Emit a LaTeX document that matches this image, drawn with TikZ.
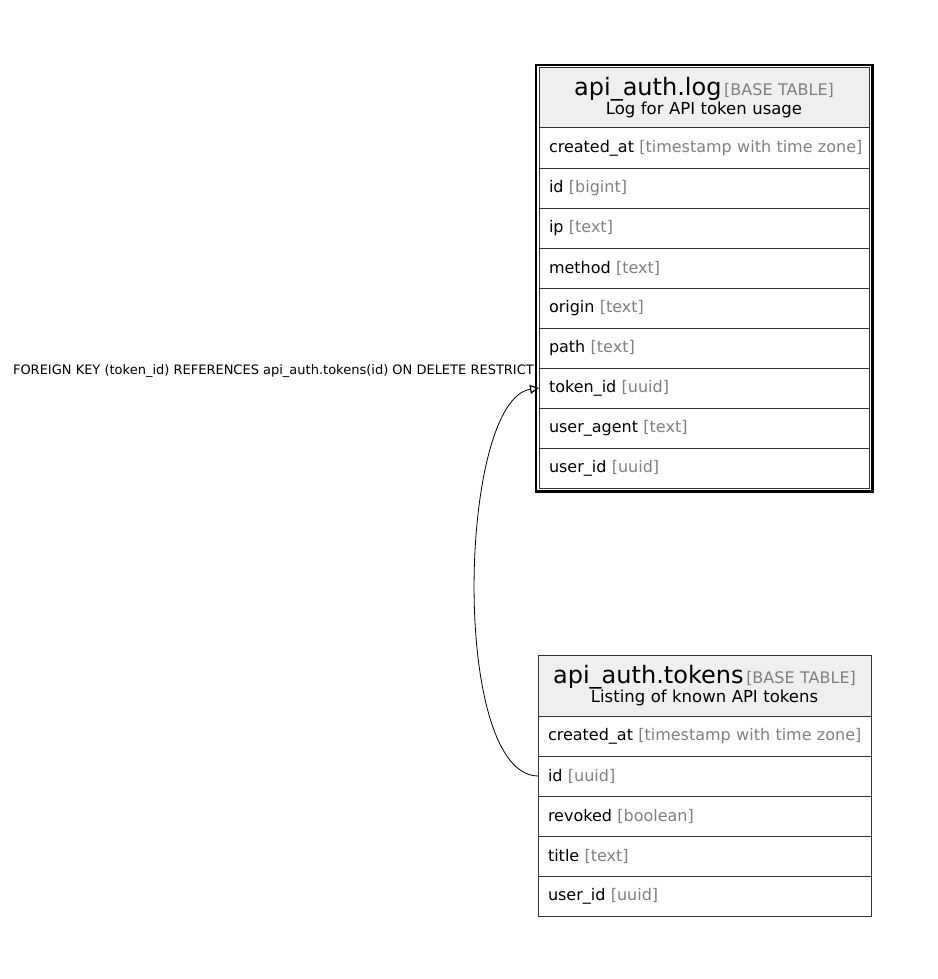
\documentclass[tikz,border=0pt]{standalone}
\usepackage{fontspec}
\setmainfont{DejaVu Sans}
\usetikzlibrary{positioning,fit,arrows.meta}
\definecolor{headgray}{RGB}{239,239,239}
\definecolor{typegray}{RGB}{128,128,128}
\definecolor{rulegray}{RGB}{51,51,51}
\newcommand{\fieldtype}[1]{\textcolor{typegray}{[#1]}}
\newcommand{\fieldrow}[2]{\mbox{#1 \fieldtype{#2}}}
\newcommand{\tabletitle}[2]{{\fontsize{24}{22}\selectfont #1}\,{\fontsize{16}{18}\selectfont\fieldtype{#2}}}

\begin{document}
\begin{tikzpicture}[x=1pt, y=-1pt,
    head/.style={rectangle, draw=rulegray, line width=1pt, fill=headgray, text width=310pt, align=center, inner xsep=10pt, inner ysep=0pt, minimum height=60pt, outer sep=0pt, font=\fontsize{16.5}{17}\selectfont},
    field/.style={rectangle, draw=rulegray, line width=1pt, text width=310pt, align=left, inner xsep=10pt, inner ysep=0pt, minimum height=40pt, outer sep=0pt, font=\fontsize{16}{18}\selectfont},
    tokfield/.style={field, text width=313pt},
    fklabel/.style={font=\fontsize{13}{15}\selectfont, inner sep=0pt},
    fk/.style={-{Triangle[open, length=9pt, width=9pt, line width=1.2pt]}, line width=0.8pt}
]
    \useasboundingbox (0,0) rectangle (937,979);

    % api_auth.log
    \node[head] (loghead) at (704,98) {\tabletitle{api\_auth.log}{BASE TABLE}\\ Log for API token usage};
    \node[field, below=0pt of loghead] (logcreated) {\fieldrow{created\_at}{timestamp with time zone}};
    \node[field, below=0pt of logcreated] (logid) {\fieldrow{id}{bigint}};
    \node[field, below=0pt of logid] (logip) {\fieldrow{ip}{text}};
    \node[field, below=0pt of logip] (logmethod) {\fieldrow{method}{text}};
    \node[field, below=0pt of logmethod] (logorigin) {\fieldrow{origin}{text}};
    \node[field, below=0pt of logorigin] (logpath) {\fieldrow{path}{text}};
    \node[field, below=0pt of logpath] (logtoken) {\fieldrow{token\_id}{uuid}};
    \node[field, below=0pt of logtoken] (logagent) {\fieldrow{user\_agent}{text}};
    \node[field, below=0pt of logagent] (loguser) {\fieldrow{user\_id}{uuid}};
    \node[fit=(loghead)(loguser), inner sep=3pt, draw, line width=1.5pt] (logframe) {};
    \draw[line width=3pt] (logframe.north east) -- (logframe.south east) -- (logframe.south west);

    % api_auth.tokens
    \node[head, text width=313pt, minimum height=61pt] (tokhead) at (704.5,685.5) {\tabletitle{api\_auth.tokens}{BASE TABLE}\\ Listing of known API tokens};
    \node[tokfield, below=0pt of tokhead] (tokcreated) {\fieldrow{created\_at}{timestamp with time zone}};
    \node[tokfield, below=0pt of tokcreated] (tokid) {\fieldrow{id}{uuid}};
    \node[tokfield, below=0pt of tokid] (tokrevoked) {\fieldrow{revoked}{boolean}};
    \node[tokfield, below=0pt of tokrevoked] (toktitle) {\fieldrow{title}{text}};
    \node[tokfield, below=0pt of toktitle] (tokuser) {\fieldrow{user\_id}{uuid}};

    % foreign key
    \node[fklabel, anchor=east] (fktext) at (534,371) {FOREIGN KEY (token\_id) REFERENCES api\_auth.tokens(id) ON DELETE RESTRICT};
    \draw[fk] (tokid.west) .. controls (450,775) and (458,400) .. (logtoken.west);
\end{tikzpicture}
\end{document}
